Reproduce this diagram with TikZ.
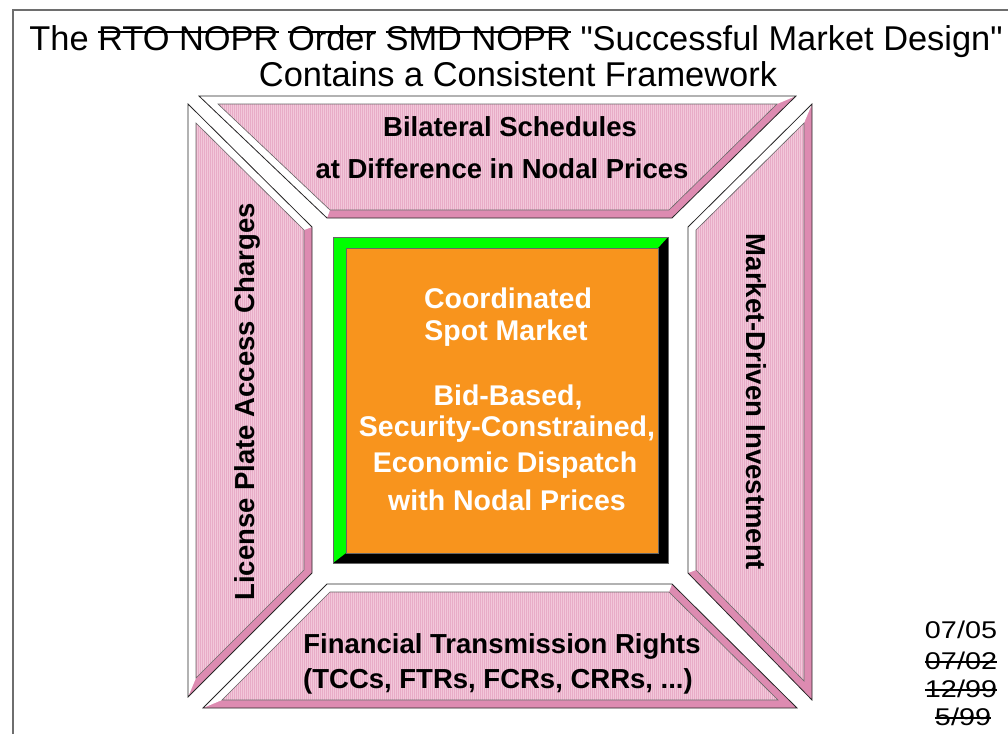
\documentclass[tikz,border=0pt]{standalone}
\usepackage{fontspec}
\setmainfont{Liberation Sans}[Ligatures=TeXOff]
\newfontfamily\datefont[FakeStretch=1.19]{Liberation Sans}
\usetikzlibrary{patterns.meta}

\newsavebox\strkbox
\newcommand{\strk}[2]{\sbox\strkbox{#2}\rlap{\rule[#1]{\wd\strkbox}{1.8pt}}\usebox\strkbox}

\definecolor{facepink}{RGB}{242,200,218}
\definecolor{stripepink}{RGB}{232,172,199}
\definecolor{shadowpink}{RGB}{221,139,177}
\definecolor{spotgreen}{RGB}{0,255,0}
\definecolor{spotorange}{RGB}{248,148,29}
\definecolor{framegray}{RGB}{110,110,110}

\tikzset{
  panelline/.style={draw=black!85, line width=0.8pt},
  faceline/.style={draw=black!60, line width=0.6pt},
  stripes/.style={pattern={Lines[angle=90,distance=2pt,line width=0.8pt]}, pattern color=stripepink},
  lbl/.style={font=\fontsize{27.5}{30}\selectfont\bfseries, inner sep=0pt},
  spottxt/.style={font=\fontsize{28.5}{30}\selectfont\bfseries, text=white, inner sep=0pt},
  datetxt/.style={font=\fontsize{24.2}{26}\datefont, inner sep=0pt, anchor=base},
}

\begin{document}
\begin{tikzpicture}[x=1pt,y=-1pt]
  \useasboundingbox (0,0) rectangle (1008,734);

  \draw[framegray, line width=1.2pt] (13,734) -- (13,10) -- (1008,10);

  \node[font=\fontsize{34.4}{36}\selectfont, anchor=base, inner sep=0pt] (title1) at (516,50)
    {The \strk{0.95ex}{RTO NOPR} \strk{0.95ex}{Order} \strk{0.95ex}{SMD NOPR} "Successful Market Design"};
  \node[font=\fontsize{34.4}{36}\selectfont, anchor=base, inner sep=0pt] (title2) at (518,86)
    {Contains a Consistent Framework};

  %% top panel
  \coordinate (topA) at (199,96);
  \coordinate (topB) at (796,96);
  \coordinate (topC) at (672,218);
  \coordinate (topD) at (327,218);
  \coordinate (topa) at (218,104);
  \coordinate (topb) at (777,104);
  \coordinate (topc) at (669,210);
  \coordinate (topd) at (330,210);

  %% left panel
  \coordinate (leftA) at (188,104);
  \coordinate (leftB) at (312,227);
  \coordinate (leftC) at (312,573);
  \coordinate (leftD) at (188,697);
  \coordinate (lefta) at (196,123);
  \coordinate (leftb) at (304,230);
  \coordinate (leftc) at (304,570);
  \coordinate (leftd) at (196,678);

  %% right panel
  \coordinate (rightA) at (688,227);
  \coordinate (rightB) at (812,104);
  \coordinate (rightC) at (812,700);
  \coordinate (rightD) at (688,573);
  \coordinate (righta) at (696,230);
  \coordinate (rightb) at (804,123);
  \coordinate (rightc) at (804,681);
  \coordinate (rightd) at (696,570);

  %% bottom panel
  \coordinate (bottomA) at (327,584);
  \coordinate (bottomB) at (672,584);
  \coordinate (bottomC) at (797,708);
  \coordinate (bottomD) at (203,708);
  \coordinate (bottoma) at (330,592);
  \coordinate (bottomb) at (669,592);
  \coordinate (bottomc) at (778,700);
  \coordinate (bottomd) at (222,700);

  \foreach \p in {top,left,right,bottom} {
    \fill[shadowpink] (\p A) -- (\p B) -- (\p C) -- (\p D) -- cycle;
    \fill[white] (\p D) -- (\p A) -- (\p B) -- (\p b) -- (\p a) -- (\p d) -- cycle;
    \fill[facepink] (\p a) -- (\p b) -- (\p c) -- (\p d) -- cycle;
    \fill[stripes] (\p a) -- (\p b) -- (\p c) -- (\p d) -- cycle;
    \draw[faceline] (\p a) -- (\p b) -- (\p c) -- (\p d) -- cycle;
    \draw[panelline] (\p A) -- (\p B) -- (\p C) -- (\p D) -- cycle;
  }

  %% spot market box
  \fill[black] (333,237) rectangle (668,563);
  \fill[spotgreen] (333,563) -- (333,237) -- (668,237) -- (658,248) -- (346,248) -- (346,553) -- cycle;
  \fill[spotorange] (346,248) rectangle (658,553);
  \draw[faceline] (333,237) rectangle (668,563);
  \draw[faceline] (346,248) rectangle (658,553);

  %% labels
  \node[lbl, anchor=base] (bil1) at (510,136) {Bilateral Schedules};
  \node[lbl, anchor=base] (bil2) at (502,178) {at Difference in Nodal Prices};
  \node[lbl, anchor=base] (ftr1) at (502,653) {Financial Transmission Rights};
  \node[lbl, anchor=base] (ftr2) at (498,688) {(TCCs, FTRs, FCRs, CRRs, ...)};
  \node[lbl, anchor=base, rotate=90] (lpac) at (254,402) {License Plate Access Charges};
  \node[lbl, anchor=base, rotate=-90] (mdi) at (746,402) {Market-Driven Investment};

  \node[spottxt, anchor=base] (spot1) at (508,308) {Coordinated};
  \node[spottxt, anchor=base] (spot2) at (506,340) {Spot Market};
  \node[spottxt, anchor=base] (spot3) at (508,405) {Bid-Based,};
  \node[spottxt, anchor=base] (spot4) at (507,436) {Security-Constrained,};
  \node[spottxt, anchor=base] (spot5) at (505,472) {Economic Dispatch};
  \node[spottxt, anchor=base] (spot6) at (507,510) {with Nodal Prices};

  %% dates
  \node[datetxt] (d1) at (961,638) {07/05};
  \node[datetxt] (d2) at (961,669) {\strk{0.5ex}{07/02}};
  \node[datetxt] (d3) at (961,697) {\strk{0.5ex}{12/99}};
  \node[datetxt] (d4) at (963,725) {\strk{0.5ex}{5/99}};

\end{tikzpicture}
\end{document}
